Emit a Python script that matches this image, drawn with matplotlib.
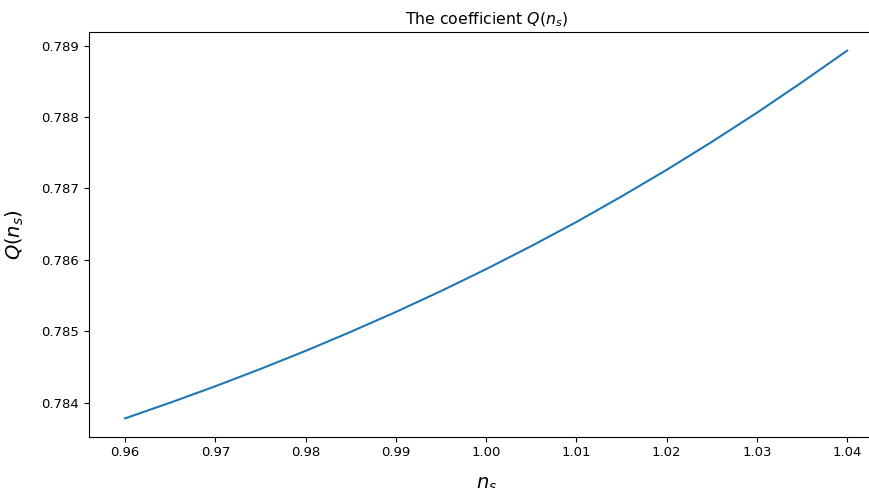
import matplotlib
matplotlib.use("Agg")
import matplotlib.pyplot as plt

# values
n_s = [0.960, 0.965, 0.970, 0.975, 0.980, 0.985, 0.990, 0.995, 1.000,
       1.005, 1.010, 1.015, 1.020, 1.025, 1.030, 1.035, 1.040]
Q = [0.783780, 0.784000, 0.784230, 0.784472, 0.784725, 0.784992, 0.785270,
     0.785563, 0.785870, 0.786193, 0.786530, 0.786888, 0.787260, 0.787652,
     0.788060, 0.788488, 0.788930]

fig = plt.figure(figsize=(8.7, 4.88), dpi=100)
ax = fig.add_axes([0.1023, 0.105, 0.913, 0.829])

ax.plot(n_s, Q)
ax.set_title(r'The coefficient $Q(n_s)$', fontsize=11.3)
ax.set_xlabel(r'$n_s$', fontsize=14, labelpad=11)
ax.set_ylabel(r'$Q(n_s)$', fontsize=14, labelpad=11)
ax.tick_params(labelsize=9.5)

fig.savefig("out.png", dpi=100)
plt.close(fig)
